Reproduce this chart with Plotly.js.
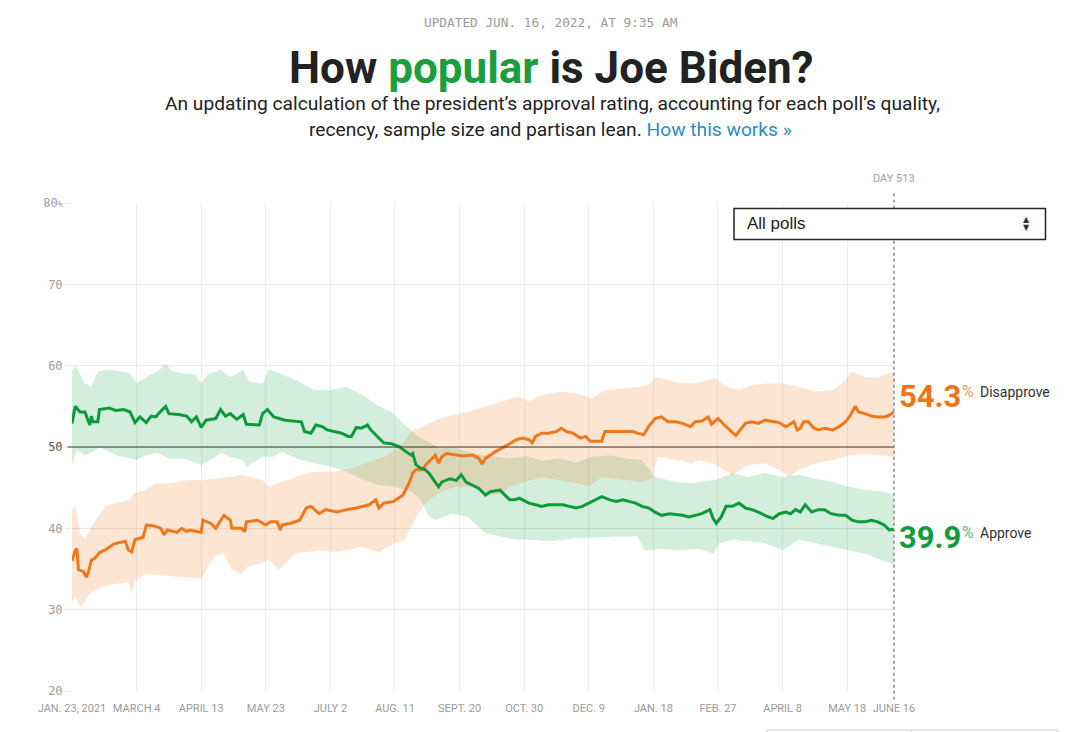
<!DOCTYPE html>
<html>
<head>
<meta charset="utf-8">
<script src="https://cdn.plot.ly/plotly-3.0.1.min.js"></script>
<style>
  html, body { margin: 0; padding: 0; background: #fff; }
  #chart { width: 1088px; height: 732px; }
</style>
</head>
<body>
<div id="chart"></div>
<script>
// ---- Data (day 0 = Jan. 23, 2021; day 509 = June 16, 2022) ----
const approveDays = [0,2,5,8,11,12,13,16,17,23,27,32,36,39,42,46,49,52,54,58,60,66,71,74,77,80,83,89,92,95,98,102,106,108,116,118,121,125,132,139,142,144,148,151,155,158,162,167,171,173,176,179,183,185,188,193,198,203,207,210,211,213,216,218,221,224,227,229,234,238,241,244,248,252,256,259,265,268,271,274,277,279,283,287,291,295,304,308,312,316,320,324,328,333,337,341,345,349,353,357,361,365,370,378,382,386,390,395,397,399,402,405,409,413,417,421,425,429,434,438,442,445,448,451,454,458,462,466,470,475,479,483,487,491,495,499,503,506,509];
const approveVals = [52.9,55.0,54.3,54.3,52.7,53.8,53.1,53.1,54.6,54.8,54.5,54.6,54.3,53.0,53.7,53.0,53.8,53.7,54.2,55.0,54.1,54.0,53.8,53.1,53.7,52.4,53.3,53.5,54.6,53.8,54.1,53.4,54.0,52.8,52.7,54.1,54.6,53.7,53.3,53.1,53.1,51.9,51.7,52.7,52.5,52.1,51.9,51.7,51.3,51.3,52.4,52.3,52.7,52.1,51.5,50.5,50.4,50.0,49.4,49.0,49.2,47.8,47.4,47.3,46.8,45.9,45.1,45.7,46.1,45.9,46.6,45.7,45.3,44.9,44.1,44.5,44.7,44.1,43.5,43.5,43.7,43.5,43.1,42.9,42.7,42.9,42.9,42.7,42.5,42.7,43.1,43.5,43.9,43.5,43.3,43.5,43.3,43.1,42.7,42.5,42.0,41.6,41.8,41.6,41.4,41.6,41.8,42.3,41.2,40.6,41.4,42.7,42.7,43.1,42.5,42.3,42.0,41.6,41.2,41.8,42.0,41.8,42.3,42.0,42.9,42.0,42.3,42.3,41.8,41.6,41.6,41.0,40.8,40.8,41.0,40.8,40.4,39.8,39.9];

const disapproveDays = [0,2,3,4,7,9,10,12,14,17,21,26,33,35,37,39,44,46,51,55,57,59,65,68,71,73,80,81,86,89,94,98,99,105,107,108,115,120,123,127,129,130,135,141,145,148,153,157,164,170,176,184,188,190,193,199,202,205,207,209,211,213,217,219,222,225,227,229,232,238,242,248,252,254,256,262,266,271,275,279,283,285,287,291,295,300,303,306,310,315,318,321,325,328,330,335,341,347,350,354,357,361,365,369,374,378,383,386,390,394,396,400,404,407,411,413,417,421,425,429,434,438,442,444,447,449,451,453,456,459,462,466,471,475,479,482,485,487,491,495,499,503,506,509];
const disapproveVals = [36.0,37.3,37.5,34.9,34.7,34.0,34.5,36.1,36.3,37.0,37.4,38.1,38.4,37.3,37.1,38.6,38.9,40.4,40.3,40.0,39.2,39.8,39.5,40.0,39.6,39.8,39.5,41.0,40.6,40.0,41.6,41.0,40.0,40.0,39.6,40.8,41.0,40.4,40.8,40.8,39.8,40.4,40.6,41.0,42.5,42.7,41.8,42.3,42.0,42.3,42.5,42.9,43.5,42.5,43.1,43.3,43.7,44.1,44.9,45.7,46.8,47.2,47.2,47.8,48.4,49.0,48.0,48.8,49.2,49.0,48.9,49.0,48.6,47.9,48.6,49.4,49.8,50.4,50.9,51.1,50.9,50.5,51.3,51.7,51.7,51.9,52.3,51.9,51.7,51.1,51.3,50.7,50.7,50.7,51.9,51.9,51.9,51.9,51.7,51.5,52.5,53.5,53.7,53.1,53.1,52.9,52.5,53.1,53.2,53.7,52.8,53.5,52.7,52.1,51.4,51.9,52.9,53.1,52.9,53.3,53.1,53.0,52.5,52.7,53.1,52.1,52.3,53.1,53.1,52.4,52.1,52.3,52.1,52.5,53.1,53.9,55.0,54.3,54.1,53.8,53.7,53.7,53.9,54.3];

// uncertainty bands
const approveHiDays = [0,2,3,8,12,16,17,23,30,36,40,46,53,58,62,70,76,80,84,92,98,106,110,118,122,130,140,150,160,170,180,190,198,205,210,215,220,228,236,245,255,265,271,281,291,302,312,322,333,343,353,361,374,384,394,398,409,419,429,440,450,460,471,481,491,502,509];
const approveHi = [59.3,59.9,59.7,57.8,57.4,59.3,59.3,59.5,59.3,59.1,57.8,58.6,59.3,60.2,59.3,59.0,58.9,57.8,58.9,59.5,58.6,59.5,58.0,57.8,59.6,58.9,58.1,57.0,57.0,57.4,56.4,55.0,54.3,52.9,52.1,51.2,50.7,49.8,50.0,49.4,49.0,48.7,48.6,48.9,48.3,48.6,48.1,48.8,49.0,48.6,48.4,46.3,45.7,45.5,45.9,45.9,46.8,46.3,46.8,46.3,46.6,46.1,45.7,45.1,44.7,44.5,44.1];
const approveLoDays = [0,3,8,12,17,27,36,40,46,53,60,70,80,86,92,98,106,108,118,125,130,140,150,160,170,180,190,200,210,216,221,225,235,245,256,265,275,285,295,305,312,320,335,350,355,365,375,388,397,401,409,419,429,440,450,460,471,481,491,502,509];
const approveLo = [47.8,49.6,49.0,49.3,50.0,49.0,48.6,48.4,49.0,49.3,48.6,48.6,47.8,48.4,49.3,48.8,48.4,47.6,48.8,48.8,49.4,48.5,48.0,47.6,47.0,46.0,45.3,45.1,44.5,43.5,41.5,41.0,41.8,41.4,39.4,39.0,38.6,38.6,38.4,38.6,38.8,38.8,39.0,39.0,37.3,37.5,37.3,37.5,36.9,38.2,38.6,38.4,38.2,37.3,38.6,38.2,37.7,37.3,36.9,36.1,35.5];
const disapproveHiDays = [0,2,5,8,12,16,21,27,36,39,45,52,60,71,80,89,97,105,118,122,132,142,153,163,174,184,194,205,211,215,225,235,245,256,266,276,283,291,302,312,322,330,343,357,361,374,384,394,398,405,413,421,429,440,450,460,471,479,483,491,499,509];
const disapproveHi = [42.3,42.9,39.4,38.6,40.2,41.4,42.7,43.1,43.5,44.3,44.7,45.5,45.5,45.9,45.9,46.1,46.3,46.6,45.9,45.1,45.9,46.6,47.0,47.0,47.4,48.2,48.8,50.5,52.1,52.3,53.3,53.9,54.3,55.0,55.6,56.2,55.6,56.4,56.8,56.6,56.0,57.0,57.2,57.6,58.6,58.0,57.8,58.2,58.5,57.4,57.0,57.6,57.8,57.8,57.4,56.8,57.0,58.2,59.3,58.6,58.5,59.3];
const disapproveLoDays = [0,2,5,8,11,18,27,35,37,39,46,56,66,80,84,89,94,99,105,109,117,122,128,138,153,163,180,190,200,206,212,219,227,237,250,256,266,271,279,291,302,312,320,328,339,353,359,363,374,384,388,397,405,409,419,429,440,444,450,460,471,481,491,502,509];
const disapproveLo = [30.8,31.6,30.4,31.0,32.0,32.8,33.2,33.4,32.0,33.6,34.4,34.2,34.0,33.8,35.3,36.7,36.9,34.9,34.4,35.3,35.7,36.1,34.9,36.9,37.3,37.1,37.7,37.1,38.2,38.6,41.0,43.1,44.3,45.1,45.1,43.9,44.3,45.1,45.6,46.3,45.9,45.5,45.2,46.3,46.0,45.7,46.2,48.8,48.4,48.0,48.4,48.0,47.0,46.6,47.8,48.0,47.0,46.3,47.2,48.0,48.4,49.0,49.2,49.0,48.8];

// axis ticks
const xTickDays = [0,40,80,120,160,200,240,280,320,360,400,440,480,509];
const xTickLabels = ["JAN. 23, 2021","MARCH 4","APRIL 13","MAY 23","JULY 2","AUG. 11","SEPT. 20","OCT. 30","DEC. 9","JAN. 18","FEB. 27","APRIL 8","MAY 18","JUNE 16"];
const yTickVals = [20,30,40,50,60,70,80];
const yTickLabels = ["20","30","40","<span style='color:#555'>50</span>","60","70","80<span style='font-size:8px'>%</span>"];

const dayLabel = "DAY 513";
const updatedText = "UPDATED JUN. 16, 2022, AT 9:35 AM";

// ---- Styles ----
const GREEN = '#0e9a3b';
const ORANGE = '#f0781b';
const GREEN_BAND = 'rgba(35,170,85,0.2)';
const ORANGE_BAND = 'rgba(245,125,35,0.2)';

const traces = [
  {x: approveLoDays, y: approveLo, mode: 'lines', line: {width: 0, color: 'rgba(0,0,0,0)'}, hoverinfo: 'skip', showlegend: false},
  {x: approveHiDays, y: approveHi, mode: 'lines', line: {width: 0, color: 'rgba(0,0,0,0)'}, fill: 'tonexty', fillcolor: GREEN_BAND, hoverinfo: 'skip', showlegend: false},
  {x: disapproveLoDays, y: disapproveLo, mode: 'lines', line: {width: 0, color: 'rgba(0,0,0,0)'}, hoverinfo: 'skip', showlegend: false},
  {x: disapproveHiDays, y: disapproveHi, mode: 'lines', line: {width: 0, color: 'rgba(0,0,0,0)'}, fill: 'tonexty', fillcolor: ORANGE_BAND, hoverinfo: 'skip', showlegend: false},
  {x: disapproveDays, y: disapproveVals, mode: 'lines', line: {width: 3, color: ORANGE}, name: 'Disapprove', showlegend: false},
  {x: approveDays, y: approveVals, mode: 'lines', line: {width: 3, color: GREEN}, name: 'Approve', showlegend: false}
];

const lastD = disapproveVals[disapproveVals.length - 1].toFixed(1);
const lastA = approveVals[approveVals.length - 1].toFixed(1);

const SANS = 'Roboto, "Liberation Sans", Arial, sans-serif';

const annotations = [
  {xref: 'paper', yref: 'paper', x: 0.5827, y: 1.3709, xanchor: 'center', yanchor: 'middle', showarrow: false,
   text: updatedText, font: {family: '"DejaVu Sans Mono", monospace', size: 12.75, color: '#9a9a9a'}},
  {xref: 'paper', yref: 'paper', x: 0.5839, y: 1.2766, xanchor: 'center', yanchor: 'middle', showarrow: false,
   text: "How <span style='color:#1b9e3c'>popular</span> is Joe Biden?", font: {family: SANS, size: 44, color: '#222', weight: 700}},
  {xref: 'paper', yref: 'paper', x: 0.5845, y: 1.2029, xanchor: 'center', yanchor: 'middle', showarrow: false,
   text: "An updating calculation of the president\u2019s approval rating, accounting for each poll\u2019s quality,", font: {family: SANS, size: 19.2, color: '#222'}},
  {xref: 'paper', yref: 'paper', x: 0.5827, y: 1.1496, xanchor: 'center', yanchor: 'middle', showarrow: false,
   text: "recency, sample size and partisan lean. <span style='color:#2a8dc2'>How this works \u00bb</span>", font: {family: SANS, size: 19.2, color: '#222'}},
  {xref: 'paper', yref: 'paper', x: 1, y: 1.0512, xanchor: 'center', yanchor: 'middle', showarrow: false,
   text: dayLabel, font: {family: SANS, size: 11, color: '#a0a0a0'}},
  // dropdown
  {xref: 'paper', yref: 'paper', x: 0.8187, y: 0.957, xanchor: 'left', yanchor: 'middle', showarrow: false,
   text: 'All polls', font: {family: '"Liberation Sans", Arial, sans-serif', size: 17, color: '#222'}},
  {xref: 'paper', yref: 'paper', x: 1.1612, y: 0.9672, xanchor: 'center', yanchor: 'middle', showarrow: false,
   text: '\u25b2', font: {family: '"DejaVu Sans", sans-serif', size: 8, color: '#333'}},
  {xref: 'paper', yref: 'paper', x: 1.1612, y: 0.9488, xanchor: 'center', yanchor: 'middle', showarrow: false,
   text: '\u25bc', font: {family: '"DejaVu Sans", sans-serif', size: 8, color: '#333'}},
  // end labels
  {xref: 'paper', yref: 'paper', x: 1, xshift: 3, y: 0.6045, xanchor: 'left', yanchor: 'middle', showarrow: false,
   text: lastD, font: {family: SANS, size: 31, color: '#ee7416', weight: 700}},
  {xref: 'paper', yref: 'paper', x: 1, xshift: 66, y: 0.6143, xanchor: 'left', yanchor: 'middle', showarrow: false,
   text: '%', font: {family: SANS, size: 16, color: '#f39a55'}},
  {xref: 'paper', yref: 'paper', x: 1, xshift: 84, y: 0.6137, xanchor: 'left', yanchor: 'middle', showarrow: false,
   text: 'Disapprove', font: {family: SANS, size: 14, color: '#333'}},
  {xref: 'paper', yref: 'paper', x: 1, xshift: 3, y: 0.3145, xanchor: 'left', yanchor: 'middle', showarrow: false,
   text: lastA, font: {family: SANS, size: 31, color: '#139a3e', weight: 700}},
  {xref: 'paper', yref: 'paper', x: 1, xshift: 66, y: 0.3254, xanchor: 'left', yanchor: 'middle', showarrow: false,
   text: '%', font: {family: SANS, size: 16, color: '#5cb97a'}},
  {xref: 'paper', yref: 'paper', x: 1, xshift: 84, y: 0.3238, xanchor: 'left', yanchor: 'middle', showarrow: false,
   text: 'Approve', font: {family: SANS, size: 14, color: '#333'}}
];

const shapes = [
  // 50% reference line
  {type: 'line', xref: 'paper', yref: 'y', x0: -0.0052, x1: 1, y0: 50, y1: 50, line: {color: '#3a3a3a', width: 1}, layer: 'above'},
  // today marker (above and below the dropdown)
  {type: 'line', xref: 'paper', yref: 'paper', x0: 1, x1: 1, y0: 0.9887, y1: 1.0205, line: {color: '#8a8a8a', width: 1.5, dash: 'dot'}, layer: 'above'},
  {type: 'line', xref: 'paper', yref: 'paper', x0: 1, x1: 1, y0: -0.018, y1: 0.9252, line: {color: '#8a8a8a', width: 1.5, dash: 'dot'}, layer: 'above'},
  // dropdown box
  {type: 'rect', xref: 'paper', yref: 'paper', x0: 0.8054, x1: 1.1843, y0: 0.9252, y1: 0.9887, line: {color: '#222', width: 1.5}, fillcolor: '#fff', layer: 'above'},
  // partial box at bottom
  {type: 'rect', xref: 'paper', yref: 'paper', x0: 0.8455, x1: 1.1995, y0: -0.12, y1: -0.0799, line: {color: '#cfcfcf', width: 1}, fillcolor: 'rgba(0,0,0,0)', layer: 'above'},
  {type: 'line', xref: 'paper', yref: 'paper', x0: 1.0207, x1: 1.0207, y0: -0.12, y1: -0.0799, line: {color: '#cfcfcf', width: 1}, layer: 'above'}
];

const layout = {
  width: 1088, height: 732,
  margin: {l: 72, r: 194, t: 203, b: 41, pad: 0},
  paper_bgcolor: '#fff', plot_bgcolor: '#fff',
  showlegend: false,
  hovermode: false,
  xaxis: {
    range: [0, 509], type: 'linear',
    tickmode: 'array', tickvals: xTickDays, ticktext: xTickLabels,
    showgrid: true, gridcolor: '#ececec', gridwidth: 1,
    zeroline: false, showline: false,
    ticks: 'outside', ticklen: 7, tickcolor: 'rgba(0,0,0,0)',
    tickfont: {family: SANS, size: 11, color: '#9b9b9b'}
  },
  yaxis: {
    range: [20, 80],
    tickmode: 'array', tickvals: yTickVals, ticktext: yTickLabels,
    showgrid: true, gridcolor: '#e8e8e8', gridwidth: 1,
    zeroline: false, showline: false,
    ticks: 'outside', ticklen: 6, tickcolor: '#e8e8e8',
    tickfont: {family: '"DejaVu Sans Mono", monospace', size: 12, color: '#9d9d9d'}
  },
  annotations: annotations,
  shapes: shapes
};

Plotly.newPlot('chart', traces, layout, {displayModeBar: false, staticPlot: true});
</script>
</body>
</html>
